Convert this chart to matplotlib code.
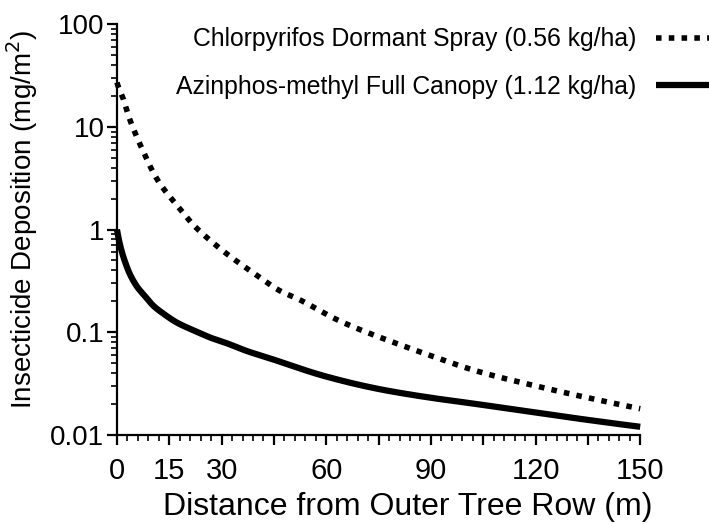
import numpy as np
import matplotlib
matplotlib.use('Agg')
import matplotlib.pyplot as plt
from matplotlib.ticker import FixedLocator, LogLocator, NullFormatter, FixedFormatter

plt.rcParams['font.family'] = ['Liberation Sans', 'DejaVu Sans']

# values (distance in m, deposition in mg/m2)
chlor_x = [0, 1.5, 4, 7, 12, 17, 22, 28, 34, 40, 47, 52, 64, 80, 90, 103, 120, 135, 150]
chlor_y = [27, 20, 11, 6.3, 2.9, 1.75, 1.1, 0.72, 0.5, 0.36, 0.25, 0.21, 0.128, 0.078,
           0.059, 0.042, 0.030, 0.023, 0.018]

azin_x = [0, 0.5, 2, 4, 6, 8, 10.5, 13.5, 17, 22, 27, 31.5, 37, 45, 60, 75, 90, 103,
          120, 135, 150]
azin_y = [1.0, 0.81, 0.52, 0.35, 0.27, 0.225, 0.18, 0.15, 0.125, 0.104, 0.088, 0.078,
          0.066, 0.054, 0.037, 0.028, 0.023, 0.020, 0.0165, 0.014, 0.012]

x_ticks = [0, 15, 30, 45, 60, 75, 90, 105, 120, 135, 150]
x_labels = ['0', '15', '30', '', '60', '', '90', '', '120', '', '150']
y_ticks = [0.01, 0.1, 1, 10, 100]
y_labels = ['0.01', '0.1', '1', '10', '100']


# monotone cubic (pchip) through the read points, on log10(x+1) vs log10(y)
def pchip(xs, ys, n=500):
    x = np.log10(np.asarray(xs, float) + 1)
    y = np.log10(ys)
    h = np.diff(x)
    d = np.diff(y) / h
    m = np.zeros_like(y)
    for i in range(1, len(x) - 1):
        if d[i - 1] * d[i] > 0:
            w1 = 2 * h[i] + h[i - 1]
            w2 = h[i] + 2 * h[i - 1]
            m[i] = (w1 + w2) / (w1 / d[i - 1] + w2 / d[i])
    m[0] = d[0]
    m[-1] = d[-1]
    xx = np.linspace(x[0], x[-1], n)
    idx = np.clip(np.searchsorted(x, xx) - 1, 0, len(h) - 1)
    t = (xx - x[idx]) / h[idx]
    h00 = 2 * t**3 - 3 * t**2 + 1
    h10 = t**3 - 2 * t**2 + t
    h01 = -2 * t**3 + 3 * t**2
    h11 = t**3 - t**2
    yy = h00 * y[idx] + h10 * h[idx] * m[idx] + h01 * y[idx + 1] + h11 * h[idx] * m[idx + 1]
    return 10 ** xx - 1, 10 ** yy


fig = plt.figure(figsize=(7.09, 5.24), dpi=100)
ax = fig.add_axes([0.165, 0.170, 0.738, 0.784])

cx, cy = pchip(chlor_x, chlor_y)
ax.plot(cx, cy, color='black', lw=4.0, linestyle=(0, (1, 1.3)), dash_capstyle='butt',
        label='Chlorpyrifos Dormant Spray (0.56 kg/ha)', clip_on=False)
ax2x, ax2y = pchip(azin_x, azin_y)
ax.plot(ax2x, ax2y, color='black', lw=4.5, solid_capstyle='butt',
        label='Azinphos-methyl Full Canopy (1.12 kg/ha)', clip_on=False)

ax.set_yscale('log')
ax.set_xlim(0, 150)
ax.set_ylim(0.01, 100)

ax.xaxis.set_major_locator(FixedLocator(x_ticks))
ax.xaxis.set_major_formatter(FixedFormatter(x_labels))
ax.xaxis.set_minor_locator(FixedLocator(np.arange(0, 151, 3)))
ax.yaxis.set_major_locator(FixedLocator(y_ticks))
ax.yaxis.set_major_formatter(FixedFormatter(y_labels))
ax.yaxis.set_minor_locator(LogLocator(base=10, subs=np.arange(2, 10)))
ax.yaxis.set_minor_formatter(NullFormatter())

for s in ['top', 'right']:
    ax.spines[s].set_visible(False)
for s in ['left', 'bottom']:
    ax.spines[s].set_linewidth(1.6)

ax.tick_params(axis='both', which='major', length=7, width=1.6, direction='out')
ax.tick_params(axis='both', which='minor', length=4, width=1.2, direction='out')
ax.tick_params(axis='x', labelsize=21, pad=9)
ax.tick_params(axis='y', labelsize=20, pad=2)

ax.set_xlabel('Distance from Outer Tree Row (m)', fontsize=23)
ax.xaxis.set_label_coords(0.556, -0.14)
ax.set_ylabel('Insecticide Deposition (mg/m$^2$)', fontsize=20)
ax.yaxis.set_label_coords(-0.148, 0.525)

fig.legend(loc='upper right', bbox_to_anchor=(1.0, 0.948), frameon=False,
           markerfirst=False, fontsize=17.8, handlelength=2.15, handletextpad=0.8,
           labelspacing=0.95, borderaxespad=0, borderpad=0)

fig.savefig('out.png', dpi=100)
